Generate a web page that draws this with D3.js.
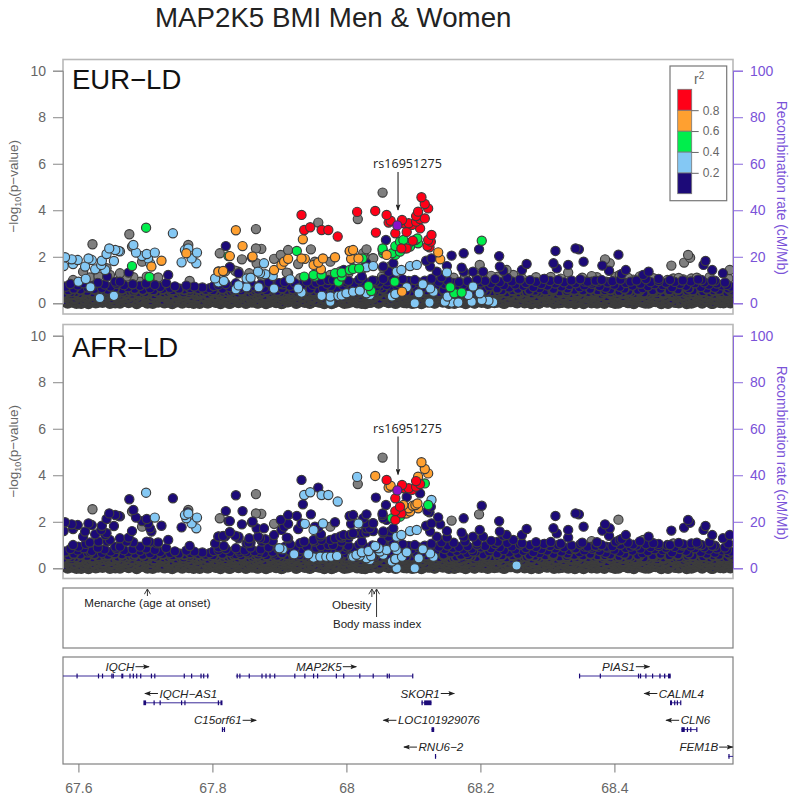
<!DOCTYPE html>
<html>
<head>
<meta charset="utf-8">
<script src="https://cdnjs.cloudflare.com/ajax/libs/d3/7.8.5/d3.min.js"></script>
<style>
html, body { margin: 0; padding: 0; background: #fff; }
svg { display: block; }
text { font-family: "Liberation Sans", Arial, sans-serif; }
</style>
</head>
<body>
<div id="chart"></div>
<script>
// r2 class codes for the AFR column: 0 grey, 1 navy, 2 blue, 3 green, 4 orange, 5 red
// every snp: [position Mb, -log10 p, AFR class], grouped by EUR class
var eurRed = [[67.933,3.80,1],[67.937,3.15,2],[67.946,3.27,2],[67.963,3.15,2],[67.973,3.15,2],[67.987,2.87,2],
  [68.016,3.93,2],[68.043,3.97,4],[68.044,3.04,1],[68.060,3.80,5],[68.063,3.47,4],[68.066,3.55,4],[68.073,3.01,5],
  [68.083,3.58,5],[68.086,3.44,5],[68.093,3.44,5],[68.098,3.37,5],[68.104,3.51,5],[68.110,3.62,5],[68.104,3.75,5],
  [68.107,3.94,4],[68.112,4.56,4],[68.117,4.27,4],[68.122,4.08,4],[68.117,3.65,3],[68.110,3.22,1],[68.090,3.07,1],
  [68.099,2.69,4],[68.090,2.36,4],[68.082,2.36,5],[68.127,2.94,2],[68.122,2.72,3],[68.121,2.46,1],[68.124,2.41,1],[68.126,2.65,1]]
var eurOrange = [[67.835,3.14,1],[67.845,2.46,1],[67.826,2.03,1],[67.860,2.01,1],[67.809,1.36,1],[67.816,1.39,1],
  [67.892,1.43,1],[67.903,1.65,1],[67.907,1.79,1],[67.913,1.91,1],[67.935,2.75,1],[67.933,1.93,1],[67.938,1.91,2],
  [67.951,1.65,2],[67.958,1.75,1],[67.965,1.93,2],[67.962,1.46,1],[67.983,1.98,1],[68.005,2.25,1],[68.010,2.29,1],
  [68.007,1.91,1],[68.018,1.93,2],[68.060,2.08,1],[67.761,2.15,2],[67.724,1.83,1],[67.709,1.58,1],[68.137,2.19,1],
  [68.140,1.89,1],[68.083,0.50,2]]
var eurGreen = [[68.054,2.36,1],[68.055,2.15,1],[68.073,2.46,5],[68.080,2.65,5],[68.085,2.72,4],[68.093,2.58,4],
  [68.106,2.79,4],[68.107,2.58,4],[68.103,2.72,4],[68.073,2.08,5],[68.068,2.15,3],[68.080,2.22,3],[68.088,2.36,4],
  [68.095,2.44,4],[67.701,3.25,2],[67.680,1.60,1],[67.706,1.13,1],[67.824,2.03,1],[67.926,2.25,1],[67.937,1.15,1],
  [67.951,1.22,1],[67.953,1.15,1],[67.963,1.22,1],[67.983,1.29,1],[67.993,1.32,1],[67.988,0.93,1],[67.993,1.15,1],
  [68.005,1.43,1],[68.010,1.48,1],[68.019,1.50,1],[68.024,1.93,1],[68.033,0.74,2],[68.037,0.53,2],[68.054,2.29,1],
  [68.202,2.69,1],[68.155,0.69,1],[68.161,0.43,1],[68.172,0.46,1],[68.072,0.93,2]]
var eurBlue = [[67.578,1.60,1],[67.580,1.98,1],[67.590,1.89,1],[67.592,1.69,1],[67.599,1.86,1],[67.610,1.58,1],
  [67.615,1.93,1],[67.620,1.86,1],[67.625,1.46,1],[67.635,1.83,1],[67.634,1.65,1],[67.640,1.43,1],[67.642,2.12,1],
  [67.646,2.36,1],[67.655,2.29,1],[67.653,1.82,1],[67.660,2.25,1],[67.662,2.23,1],[67.682,2.51,1],[67.686,2.18,1],
  [67.695,2.03,1],[67.702,2.12,1],[67.704,1.93,1],[67.707,1.72,1],[67.714,2.18,2],[67.600,0.93,1],[67.611,1.05,1],
  [67.618,0.69,1],[67.632,0.23,1],[67.653,0.32,1],[67.754,1.76,1],[67.741,3.01,1],[67.759,2.29,2],[67.764,2.36,2],
  [67.769,1.93,2],[67.777,2.18,2],[67.776,1.72,2],[67.804,1.07,1],[67.809,0.90,1],[67.817,0.96,1],[67.835,0.60,1],
  [67.839,0.77,1],[67.851,0.69,1],[67.851,1.07,1],[67.857,1.10,1],[67.869,0.69,1],[67.868,1.36,1],[67.877,1.72,1],
  [67.871,1.29,1],[67.879,1.25,1],[67.890,1.17,1],[67.892,0.63,1],[67.916,1.03,1],[67.928,0.64,1],[67.933,0.46,1],
  [67.963,0.32,1],[67.976,0.29,1],[67.976,0.07,1],[67.988,0.32,1],[67.993,0.34,1],[68.000,0.43,1],[68.010,0.50,2],
  [68.020,0.54,2],[68.030,0.43,2],[68.035,0.36,2],[68.030,1.55,1],[68.040,1.60,1],[68.068,0.29,2],[68.073,0.40,2],
  [68.075,1.36,2],[68.082,1.43,2],[68.095,1.60,2],[68.105,1.65,2],[68.090,0.69,2],[68.108,0.43,2],[68.114,0.82,2],
  [68.125,0.64,2],[68.130,0.50,2],[68.102,0.00,2],[68.124,0.03,1],[68.150,1.32,1],[68.151,0.29,1],[68.147,0.07,1],
  [68.157,0.03,1],[68.167,0.03,1],[68.182,0.36,1],[68.189,0.72,1],[68.187,0.07,1],[68.199,0.43,1],[68.202,0.14,1],
  [68.212,0.11,1],[68.219,0.04,1]]
var eurNavy = [[67.820,2.46,1],[67.826,1.55,1],[67.839,1.29,1],[67.859,1.98,1],[68.059,2.72,1],[67.734,1.22,1],
  [67.675,1.32,1],[68.030,1.72,1],[68.070,1.72,1],[68.055,1.58,1],[68.063,1.36,1],[68.050,0.21,1],[68.023,1.15,1],
  [67.996,1.43,1],[67.973,1.00,1],[68.000,0.90,1],[67.643,1.15,1],[67.655,0.93,1],[67.662,0.93,1],[68.157,2.05,0],
  [68.175,2.15,1],[68.198,2.32,0],[68.228,2.03,1],[68.312,2.25,1],[68.342,2.36,1],[68.347,2.32,1],[68.406,2.09,0],
  [68.354,1.79,1],[68.331,1.65,1],[68.309,1.72,1],[68.314,1.50,1],[68.269,1.69,1],[68.262,1.43,1],[68.229,1.58,1],
  [68.234,1.40,1],[68.172,1.53,1],[68.175,1.36,1],[68.189,1.36,1],[68.204,1.36,1],[68.382,1.62,1],[68.392,1.40,1],
  [68.411,1.26,1],[68.417,1.43,1],[68.443,1.22,0],[68.451,1.36,1],[68.466,1.05,1],[68.536,1.82,1],[68.533,1.65,1],
  [68.546,1.43,1],[68.562,1.29,1],[68.550,0.97,1],[68.530,1.00,1],[68.568,0.79,1],[68.573,0.57,1],[68.127,1.93,1],
  [68.119,1.83,1],[68.150,1.60,1],[68.135,1.36,1],[68.125,1.58,1],[68.356,0.93,1],[68.376,0.93,1],[68.366,0.93,1],
  [67.900,0.86,2],[67.905,0.82,2],[67.922,0.60,2],[67.943,0.60,2],[67.951,0.46,2],[67.961,0.50,2],[67.970,0.50,2],
  [67.977,0.50,2],[67.986,0.53,2],[68.008,0.50,2],[68.015,0.58,2],[68.023,0.69,2],[68.043,0.96,2],[68.048,0.86,2],
  [68.050,0.72,2],[68.060,0.79,2],[68.055,0.58,2],[68.075,0.79,2],[68.073,0.39,2],[68.075,0.00,2],[68.254,0.12,2]]
var eurGrey = [[67.676,2.97,1],[67.621,2.54,0],[67.764,2.51,0],[67.763,2.41,1],[67.811,2.15,0],[67.865,3.19,0],
  [67.865,2.36,0],[67.873,2.34,0],[67.844,1.89,1],[67.892,1.91,0],[67.902,2.08,1],[67.913,2.29,1],[67.947,2.32,1],
  [67.928,1.69,1],[67.911,1.32,1],[67.958,3.47,1],[68.017,3.62,0],[68.030,2.32,1],[68.039,1.93,1],[68.054,4.76,0],
  [68.025,2.15,1],[67.976,1.79,0],[67.953,1.79,1],[67.866,1.72,1],[67.855,1.29,1],[67.839,1.36,1],[67.766,0.96,1],
  [67.695,1.79,0],[67.680,2.44,0],[67.607,1.36,1],[67.682,1.12,1],[67.692,0.93,1],[67.672,1.15,1],[67.717,1.07,1],
  [67.592,1.00,1],[67.580,0.72,1],[68.485,1.62,1],[68.504,1.75,1],[68.510,2.08,1],[68.513,1.96,1],[68.386,1.89,1],
  [68.393,1.72,1],[68.331,1.32,1],[68.199,1.65,1],[68.366,1.17,0],[68.374,1.12,1],[68.388,0.93,1],[68.408,1.22,1],
  [68.572,1.43,1],[68.570,1.07,1],[68.488,1.07,0],[68.503,1.03,1],[68.515,1.07,1],[68.239,1.43,1],[68.249,1.22,1],
  [68.341,0.83,1],[68.177,1.15,1],[68.216,1.18,1],[68.283,1.12,1],[68.296,1.05,1],[68.428,1.02,1],[68.479,1.00,1],[68.496,1.09,1],[68.523,1.10,1],
  [67.617,1.11,1],[67.630,1.15,1],[67.642,1.51,1],[67.647,1.22,1],[67.662,1.29,1],[67.702,1.15,1],[67.719,1.11,1],[67.809,1.37,1],
  [67.819,1.37,1],[67.826,1.55,1],[67.834,1.40,1],[67.854,1.11,1],[67.874,1.15,1],[67.913,1.29,1],[67.931,1.08,1],[67.961,1.37,1],
  [67.976,1.22,1],[67.991,1.37,1],[68.003,1.29,1],[68.010,1.51,1],[68.025,1.51,1],[68.035,1.73,1],[68.005,2.23,1],[68.028,1.94,1],
  [68.040,1.94,1],[68.055,1.51,1],[68.065,1.58,1],[68.053,1.15,1],[68.160,1.10,1],[68.195,1.12,1],[68.226,1.14,1],[68.262,1.08,1],
  [68.305,1.13,1],[68.320,1.06,1],[68.352,1.10,1],[68.402,1.14,1],[68.420,1.10,1],[68.438,1.16,1],[68.458,1.08,1],[68.542,1.12,1]]
var leadSnp = [68.076, 3.35]

// dense band of low signal snps, navy in both panels
var floorSnps = [
  [67.578,.42],[67.579,.11],[67.581,.71],[67.582,.27],[67.584,.03],[67.585,.55],[67.587,.18],[67.588,.83],[67.590,.36],[67.591,.07],[67.593,.62],[67.594,.22],[67.596,.47],[67.597,.02],[67.599,.77],[67.600,.31],[67.602,.13],[67.603,.58],[67.605,.05],[67.606,.39],[67.608,.86],[67.609,.16],[67.611,.51],[67.612,.25],[67.614,.68],[67.615,.01],[67.617,.34],[67.618,.09],[67.620,.74],[67.621,.44],[67.623,.20],[67.624,.60],[67.626,.04],[67.627,.29],[67.629,.88],[67.630,.52],[67.632,.14],[67.633,.37],[67.635,.66],[67.636,.06],[67.638,.24],[67.639,.81],[67.641,.46],[67.642,.12],[67.644,.56],[67.645,.32],[67.647,.02],[67.648,.72],[67.650,.19],[67.651,.41],[67.653,.08],[67.654,.64],[67.656,.28],[67.657,.84],[67.659,.49],[67.660,.15],[67.662,.03],[67.663,.35],[67.665,.59],[67.666,.23],[67.668,.78],[67.669,.10],[67.671,.43],[67.672,.26],[67.674,.69],[67.675,.05],
  [67.677,.53],[67.678,.17],[67.680,.38],[67.681,.82],[67.683,.12],[67.684,.61],[67.686,.30],[67.687,.01],[67.689,.48],[67.690,.21],[67.692,.75],[67.693,.09],[67.695,.40],[67.696,.57],[67.698,.15],[67.699,.33],[67.701,.85],[67.702,.06],[67.704,.45],[67.705,.26],[67.707,.65],[67.708,.11],[67.710,.54],[67.711,.02],[67.713,.36],[67.714,.79],[67.716,.19],[67.717,.50],[67.719,.07],[67.720,.28],[67.722,.70],[67.723,.42],[67.725,.13],[67.726,.60],[67.728,.04],[67.729,.33],[67.731,.87],[67.732,.23],[67.734,.47],[67.735,.10],[67.737,.66],[67.738,.31],[67.740,.01],[67.741,.55],[67.743,.18],[67.744,.73],[67.746,.39],[67.747,.08],[67.749,.27],[67.750,.62],[67.752,.14],[67.753,.46],[67.755,.03],[67.756,.35],[67.758,.58],[67.759,.22],[67.761,.76],[67.762,.11],[67.764,.41],[67.765,.05],[67.767,.64],[67.768,.29],[67.770,.17],[67.771,.52],[67.773,.72],[67.774,.07],[67.776,.37],
  [67.778,.24],[67.779,.60],[67.781,.02],[67.782,.44],[67.784,.13],[67.785,.68],[67.787,.30],[67.788,.09],[67.790,.56],[67.791,.20],[67.793,.38],[67.794,.04],[67.796,.65],[67.797,.26],[67.799,.48],[67.800,.12],[67.802,.74],[67.803,.33],[67.805,.06],[67.806,.53],[67.808,.18],[67.809,.79],[67.811,.42],[67.812,.01],[67.814,.28],[67.815,.61],[67.817,.15],[67.818,.36],[67.820,.83],[67.821,.08],[67.823,.50],[67.824,.22],[67.826,.70],[67.827,.03],[67.829,.40],[67.830,.11],[67.832,.57],[67.833,.31],[67.835,.86],[67.836,.19],[67.838,.45],[67.839,.05],[67.841,.67],[67.842,.25],[67.844,.13],[67.845,.54],[67.847,.35],[67.848,.77],[67.850,.02],[67.851,.43],[67.853,.16],[67.854,.63],[67.856,.29],[67.857,.89],[67.859,.07],[67.860,.49],[67.862,.21],[67.863,.73],[67.865,.38],[67.866,.10],[67.868,.58],[67.869,.04],[67.871,.27],[67.872,.81],[67.874,.46],[67.875,.14],[67.877,.66],
  [67.878,.33],[67.880,.01],[67.881,.55],[67.883,.23],[67.884,.90],[67.886,.09],[67.887,.41],[67.889,.17],[67.890,.71],[67.892,.30],[67.893,.52],[67.895,.05],[67.896,.37],[67.898,.85],[67.899,.12],[67.901,.47],[67.902,.26],[67.904,.64],[67.905,.03],[67.907,.34],[67.908,.92],[67.910,.19],[67.911,.56],[67.913,.08],[67.914,.43],[67.916,.75],[67.917,.24],[67.919,.14],[67.920,.60],[67.922,.32],[67.923,.87],[67.925,.02],[67.926,.50],[67.928,.20],[67.929,.69],[67.931,.39],[67.932,.10],[67.934,.82],[67.935,.28],[67.937,.54],[67.938,.06],[67.940,.44],[67.941,.94],[67.943,.16],[67.944,.35],[67.946,.62],[67.947,.04],[67.949,.25],[67.950,.79],[67.952,.48],[67.953,.12],[67.955,.88],[67.956,.31],[67.958,.58],[67.959,.07],[67.961,.40],[67.962,.96],[67.964,.21],[67.965,.67],[67.967,.01],[67.968,.45],[67.970,.15],[67.971,.84],[67.973,.33],[67.974,.53],[67.976,.09],
  [67.977,.74],[67.979,.27],[67.980,1.0],[67.982,.05],[67.983,.42],[67.985,.18],[67.986,.61],[67.988,.36],[67.989,.91],[67.991,.11],[67.992,.51],[67.994,.23],[67.995,.78],[67.997,.02],[67.998,.38],[68.000,.65],[68.001,.14],[68.003,.97],[68.004,.30],[68.006,.49],[68.007,.08],[68.009,.71],[68.010,.26],[68.012,.86],[68.013,.17],[68.015,.43],[68.016,.04],[68.018,.56],[68.019,1.02],[68.021,.34],[68.022,.12],[68.024,.68],[68.025,.47],[68.027,.93],[68.028,.01],[68.030,.29],[68.031,.59],[68.033,.19],[68.034,.83],[68.036,.40],[68.037,.07],[68.039,.98],[68.040,.25],[68.042,.52],[68.043,.13],[68.045,.73],[68.046,.37],[68.048,.03],[68.049,.89],[68.051,.46],[68.052,.20],[68.054,.63],[68.055,1.05],[68.057,.10],[68.058,.32],[68.060,.55],[68.061,.94],[68.063,.05],[68.064,.41],[68.066,.76],[68.067,.16],[68.069,.28],[68.070,1.08],[68.072,.48],[68.073,.02],[68.075,.66],
  [68.076,.22],[68.078,.87],[68.079,.35],[68.081,.09],[68.082,.57],[68.084,1.03],[68.085,.15],[68.087,.44],[68.088,.74],[68.090,.04],[68.091,.30],[68.093,.96],[68.094,.19],[68.096,.50],[68.097,.81],[68.099,.11],[68.100,.39],[68.102,1.0],[68.103,.06],[68.105,.62],[68.106,.27],[68.108,.90],[68.109,.14],[68.111,.45],[68.112,.01],[68.114,.70],[68.115,.33],[68.117,.97],[68.118,.21],[68.120,.54],[68.121,.08],[68.123,.85],[68.124,.41],[68.126,.17],[68.127,1.06],[68.129,.29],[68.130,.60],[68.132,.03],[68.133,.77],[68.135,.36],[68.136,.12],[68.138,.93],[68.139,.48],[68.141,.24],[68.142,1.12],[68.144,.07],[68.145,.58],[68.147,.83],[68.148,.18],[68.150,.40],[68.151,.98],[68.153,.02],[68.154,.31],[68.156,.69],[68.157,.13],[68.159,.88],[68.160,.46],[68.162,.22],[68.163,.05],[68.165,.75],[68.166,.35],[68.168,.92],[68.169,.10],[68.171,.56],[68.172,.26],[68.174,.81],
  [68.175,.16],[68.177,.43],[68.178,.01],[68.180,.66],[68.181,.95],[68.183,.32],[68.184,.08],[68.186,.52],[68.187,.84],[68.189,.20],[68.190,.38],[68.192,.04],[68.193,.71],[68.195,1.01],[68.196,.13],[68.198,.47],[68.199,.27],[68.201,.89],[68.202,.06],[68.204,.59],[68.205,.34],[68.207,.96],[68.208,.15],[68.210,.44],[68.211,.02],[68.213,.73],[68.214,.24],[68.216,.86],[68.217,.51],[68.219,.11],[68.220,.37],[68.222,1.04],[68.223,.19],[68.225,.63],[68.226,.07],[68.228,.41],[68.229,.91],[68.231,.29],[68.232,.55],[68.234,.03],[68.235,.78],[68.237,.14],[68.238,.46],[68.240,1.09],[68.241,.22],[68.243,.68],[68.244,.35],[68.246,.09],[68.247,.94],[68.249,.53],[68.250,.17],[68.252,.81],[68.253,.30],[68.255,.04],[68.256,.61],[68.258,.42],[68.259,1.02],[68.261,.12],[68.262,.26],[68.264,.75],[68.265,.49],[68.267,.07],[68.268,.87],[68.270,.33],
  [68.271,.18],[68.273,.57],[68.274,.99],[68.276,.01],[68.277,.39],[68.279,.70],[68.280,.23],[68.282,.10],[68.283,.92],[68.285,.47],[68.286,.28],[68.288,.65],[68.289,.05],[68.291,.83],[68.292,.36],[68.294,.15],[68.295,1.05],[68.297,.54],[68.298,.21],[68.300,.76],[68.301,.08],[68.303,.43],[68.304,.96],[68.306,.31],[68.307,.12],[68.309,.60],[68.310,.02],[68.312,.85],[68.313,.38],[68.315,.19],[68.316,1.0],[68.318,.50],[68.319,.26],[68.321,.72],[68.322,.06],[68.324,.33],[68.325,.90],[68.327,.14],[68.328,.45],[68.330,.63],[68.331,.03],[68.333,.79],[68.334,.24],[68.336,.98],[68.337,.37],[68.339,.11],[68.340,.56],[68.342,.86],[68.343,.17],[68.345,.42],[68.346,.07],[68.348,.69],[68.349,1.03],[68.351,.29],[68.352,.52],[68.354,.01],[68.355,.77],[68.357,.34],[68.358,.13],[68.360,.93],[68.361,.47],[68.363,.22],[68.364,.61],[68.366,.04],[68.367,.84],[68.369,.40],
  [68.370,.16],[68.372,.97],[68.373,.28],[68.375,.55],[68.376,.09],[68.378,.74],[68.379,.35],[68.381,1.0],[68.382,.19],[68.384,.48],[68.385,.02],[68.387,.67],[68.388,.25],[68.390,.89],[68.391,.12],[68.393,.43],[68.394,.58],[68.396,.06],[68.397,.95],[68.399,.31],[68.400,.80],[68.402,.15],[68.403,.50],[68.405,.38],[68.406,.03],[68.408,.71],[68.409,1.01],[68.411,.21],[68.412,.44],[68.414,.10],[68.415,.62],[68.417,.87],[68.418,.27],[68.420,.05],[68.421,.53],[68.423,.36],[68.424,.93],[68.426,.17],[68.427,.76],[68.429,.01],[68.430,.41],[68.432,.23],[68.433,.98],[68.435,.57],[68.436,.12],[68.438,.32],[68.439,.84],[68.441,.07],[68.442,.65],[68.444,.46],[68.445,.18],[68.447,1.04],[68.448,.29],[68.450,.73],[68.451,.03],[68.453,.39],[68.454,.91],[68.456,.14],[68.457,.55],[68.459,.24],[68.460,.82],[68.462,.09],[68.463,.49],[68.465,.34],
  [68.466,.96],[68.468,.06],[68.469,.61],[68.471,.20],[68.472,.78],[68.474,.42],[68.475,.13],[68.477,.88],[68.478,.30],[68.480,.02],[68.481,.52],[68.483,1.0],[68.484,.16],[68.486,.69],[68.487,.37],[68.489,.08],[68.490,.92],[68.492,.26],[68.493,.45],[68.495,.59],[68.496,.04],[68.498,.83],[68.499,.33],[68.501,.11],[68.502,.98],[68.504,.47],[68.505,.22],[68.507,.75],[68.508,.01],[68.510,.40],[68.511,.64],[68.513,.17],[68.514,.94],[68.516,.28],[68.517,.54],[68.519,.07],[68.520,.86],[68.522,.35],[68.523,.13],[68.525,1.02],[68.526,.43],[68.528,.24],[68.529,.70],[68.531,.03],[68.532,.51],[68.534,.90],[68.535,.18],[68.537,.31],[68.538,.62],[68.540,.09],[68.541,.80],[68.543,.46],[68.544,.21],[68.546,.97],[68.547,.02],[68.549,.38],[68.550,.67],[68.552,.14],[68.553,.85],[68.555,.28],[68.556,.56],[68.558,.05],[68.559,.41],[68.561,.77],[68.562,.19],[68.564,.33],[68.565,.89],[68.567,.10],[68.568,.48],[68.570,.63],[68.571,.25],[68.573,.04],[68.574,.72],[68.576,.36],[68.577,.15]
]
// more of the same band, thickest near the baseline
var floorLow = [
  [67.580,.33],[67.586,.09],[67.589,.48],[67.595,.21],[67.601,.40],[67.604,.02],[67.610,.30],[67.613,.52],[67.619,.13],[67.622,.37],[67.628,.06],[67.631,.45],[67.637,.24],[67.640,.55],[67.646,.15],[67.649,.35],[67.655,.04],[67.658,.43],[67.664,.19],[67.667,.50],[67.673,.11],[67.676,.29],[67.682,.53],[67.685,.08],[67.691,.38],[67.694,.18],[67.700,.47],[67.703,.03],[67.709,.26],[67.712,.55],[67.718,.12],[67.721,.34],[67.727,.44],[67.730,.05],[67.736,.22],[67.739,.51],[67.745,.14],[67.748,.36],[67.754,.08],[67.757,.46],[67.763,.28],[67.766,.53],[67.772,.02],[67.775,.19],[67.780,.41],[67.783,.10],[67.786,.50],[67.789,.25],[67.792,.04],[67.795,.35],[67.798,.15],[67.801,.55],[67.804,.30],[67.807,.07],[67.810,.44],[67.813,.20],[67.816,.49],[67.819,.11],[67.822,.33],[67.825,.02],[67.828,.52],[67.831,.24],[67.834,.40],[67.837,.09],[67.840,.28],[67.843,.54],[67.846,.13],[67.849,.37],[67.852,.05],[67.855,.46],[67.858,.18],[67.861,.31],[67.864,.55],[67.867,.03],[67.870,.42],[67.873,.21],[67.876,.50],[67.879,.12],[67.882,.32],[67.885,.06],[67.888,.47],[67.891,.26],[67.894,.14],[67.897,.53],[67.900,.38],[67.903,.01],[67.906,.44],[67.909,.23],[67.912,.09],[67.915,.51],[67.918,.34],[67.921,.16],[67.924,.41],[67.927,.05],[67.930,.55],[67.933,.27],[67.936,.12],[67.939,.48],[67.942,.36],[67.945,.02],[67.948,.20],[67.951,.52],[67.954,.10],[67.957,.43],[67.960,.29],[67.963,.06],[67.966,.54],[67.969,.17],[67.972,.39],[67.975,.24],[67.978,.01],[67.981,.47],[67.984,.13],[67.987,.33],[67.990,.55],[67.993,.08],[67.996,.26],[67.999,.50],[68.002,.04],[68.005,.42],[68.008,.19],[68.011,.35],[68.014,.11],[68.017,.53],[68.020,.22],[68.023,.02],[68.026,.45],[68.029,.15],[68.032,.37],[68.035,.06],[68.038,.52],[68.041,.28],[68.044,.41],[68.047,.09],[68.050,.49],[68.053,.18],[68.056,.32],
  [68.077,.10],[68.080,.42],[68.083,.26],[68.086,.05],[68.089,.52],[68.092,.17],[68.095,.36],[68.098,.02],[68.101,.47],[68.104,.22],[68.107,.12],[68.110,.54],[68.113,.31],[68.116,.07],[68.119,.44],[68.122,.18],[68.125,.38],[68.128,.50],[68.131,.04],[68.134,.25],[68.137,.46],[68.140,.13],[68.143,.34],[68.146,.53],[68.149,.09],[68.152,.20],[68.155,.41],[68.158,.28],[68.161,.02],[68.164,.50],[68.167,.16],[68.170,.37],[68.173,.06],[68.176,.45],[68.179,.24],[68.182,.55],[68.185,.12],[68.188,.33],[68.191,.03],[68.194,.48],[68.197,.19],[68.200,.40],[68.203,.27],[68.206,.08],[68.209,.53],[68.212,.14],[68.215,.35],[68.218,.43],[68.221,.05],[68.224,.22],[68.227,.51],[68.230,.11],[68.233,.30],[68.236,.02],[68.239,.46],[68.242,.17],[68.245,.39],[68.248,.55],[68.251,.08],[68.254,.26],[68.257,.44],[68.260,.13],[68.263,.34],[68.266,.04],[68.269,.50],[68.272,.21],[68.275,.37],[68.278,.10],[68.281,.53],[68.284,.28],[68.287,.02],[68.290,.42],[68.293,.16],[68.296,.32],[68.299,.07],[68.302,.48],[68.305,.24],[68.308,.55],[68.311,.12],[68.314,.36],[68.317,.04],[68.320,.45],[68.323,.19],[68.326,.29],[68.329,.52],[68.332,.09],[68.335,.40],[68.338,.22],[68.341,.01],[68.344,.47],[68.347,.14],[68.350,.34],[68.353,.54],[68.356,.06],[68.359,.25],[68.362,.43],[68.365,.11],[68.368,.31],[68.371,.50],[68.374,.03],[68.377,.18],[68.380,.38],[68.383,.07],[68.386,.55],[68.389,.27],[68.392,.13],[68.395,.46],[68.398,.21],[68.401,.02],[68.404,.35],[68.407,.52],[68.410,.09],[68.413,.28],[68.416,.42],[68.419,.15],[68.422,.05],[68.425,.49],[68.428,.24],[68.431,.33],[68.434,.11],[68.437,.54],[68.440,.19],[68.443,.39],[68.446,.03],[68.449,.45],[68.452,.26],[68.455,.08],[68.458,.51],[68.461,.14],[68.464,.36],[68.467,.22],[68.470,.01],[68.473,.44],[68.476,.30],[68.479,.12],[68.482,.55],[68.485,.18],[68.488,.40],[68.491,.06],[68.494,.27],[68.497,.48],[68.500,.09],[68.503,.34],[68.506,.15],[68.509,.53],[68.512,.24],[68.515,.03],[68.518,.42],[68.521,.19],[68.524,.31],[68.527,.50],[68.530,.07],[68.533,.37],[68.536,.12],[68.539,.45],[68.542,.28],[68.545,.02],[68.548,.54],[68.551,.21],[68.554,.35],[68.557,.10],[68.560,.47],[68.563,.04],[68.566,.26],[68.569,.41],[68.572,.16],[68.575,.52]
]

var r2Breaks = [0, 0.2, 0.4, 0.6, 0.8, 1]
var r2Colors = ["#1c0a78", "#84c8f4", "#00ee4c", "#ffa030", "#ff0018"]
var classColors = ["#7f7f7f", "#1c0a78", "#84c8f4", "#00ee4c", "#ffa030", "#ff0018"]
var leadColor = "#8a10c8"

var xTicks = [67.6, 67.8, 68, 68.2, 68.4]
var pTicks = [0, 2, 4, 6, 8, 10]
var recTicks = [0, 20, 40, 60, 80, 100]

var catalogNames = ["Menarche (age at onset)", "Obesity", "Body mass index"]
var catalogPos = [67.703, 68.038, 68.045]

var geneNames = ["IQCH", "MAP2K5", "IQCH\u2212AS1", "C15orf61", "SKOR1", "LOC101929076", "RNU6\u22122", "PIAS1", "CALML4", "CLN6", "FEM1B"]
var geneRows = [0, 0, 1, 2, 1, 2, 3, 0, 1, 2, 3]
var geneStrand = [1, 1, -1, 1, 1, -1, -1, 1, -1, -1, 1]
var geneStart = [67.577, 67.835, 67.698, 67.815, 68.112, 68.127, 68.133, 68.348, 68.483, 68.500, 68.570]
var geneEnd = [67.795, 68.099, 67.814, 67.818, 68.127, 68.131, 68.134, 68.484, 68.499, 68.523, 68.577]
var geneLabelPos = [67.662, 67.959, 67.764, 67.808, 68.110, 68.138, 68.141, 68.406, 68.500, 68.521, 68.526]
// single numbers are thin exons, pairs are wide blocks
var geneExons = [
  [67.598,67.630,67.636,67.650,67.652,[67.664,67.667],67.677,67.682,67.687,67.693,67.709,67.714,67.758,67.769,67.783,67.787,67.793],
  [67.837,67.841,67.855,67.874,67.880,67.886,67.893,67.923,67.938,67.951,67.957,67.985,67.996,68.020,68.040,68.061,68.064,68.099],
  [[67.697,67.701],67.713,67.722,67.754,67.759,[67.808,67.810],[67.812,67.815]],
  [67.815,67.818],
  [[68.112,68.114],[68.116,68.127]],
  [[68.127,68.131]],
  [68.133],
  [68.348,68.379,68.436,68.439,68.447,68.457,[68.467,68.469],[68.474,68.476],[68.480,68.484]],
  [[68.483,68.486],68.490,68.494,68.499],
  [[68.500,68.505],68.509,68.514,68.523],
  [68.571]
]

var svg = d3.select("#chart").append("svg").attr("width", 800).attr("height", 800)
var x = d3.scaleLinear().domain([67.577, 68.577]).range([63, 733])

var defs = svg.append("defs")
defs.append("marker").attr("id", "head").attr("viewBox", "0 0 8 6").attr("refX", 7).attr("refY", 3)
  .attr("markerWidth", 7).attr("markerHeight", 5).attr("markerUnits", "userSpaceOnUse").attr("orient", "auto")
  .append("path").attr("d", "M0,0L8,3L0,6L1.5,3Z").attr("fill", "#222")
defs.append("marker").attr("id", "open").attr("viewBox", "0 0 8 8").attr("refX", 7).attr("refY", 4)
  .attr("markerWidth", 7).attr("markerHeight", 7).attr("markerUnits", "userSpaceOnUse").attr("orient", "auto")
  .append("path").attr("d", "M1,0.5L7,4L1,7.5").attr("fill", "none").attr("stroke", "#333").attr("stroke-width", 1.1)

var allSnps = []
addGroup(eurGrey, 0)
addGroup(eurNavy, 1)
addGroup(eurBlue, 2)
addGroup(eurGreen, 3)
addGroup(eurOrange, 4)
addGroup(eurRed, 5)
floorSnps.concat(floorLow).forEach(function(d){ allSnps.push({pos: d[0], logp: d[1], eur: 1, afr: 1, band: true}) })

function addGroup(rows, eurClass){
  rows.forEach(function(d){ allSnps.push({pos: d[0], logp: d[1], eur: eurClass, afr: d[2], band: false}) })
}

svg.append("text").attr("x", 155).attr("y", 27).attr("font-size", 27.7).attr("fill", "#222").text("MAP2K5 BMI Men & Women")

addPanel(59.5, 314, 303.3, "EUR\u2212LD", "eur", 89.3, 168, "p1")
addPanel(324.5, 578.5, 568.3, "AFR\u2212LD", "afr", 357.3, 432.5, "p2")
addLegend()
addCatalog()
addGenes()
addXAxis()

function bandStroke(d){
  if (!d.band) return 1.15
  if (d.logp < 0.45) return 3
  if (d.logp < 0.65) return 2
  return 1.15
}

function addPanel(top, bottom, zero, name, key, nameY, snpTextY, clipId){
  var y = d3.scaleLinear().domain([0, 10]).range([zero, zero - 232.6])
  var rec = d3.scaleLinear().domain([0, 100]).range([zero, zero - 232.6])
  var g = svg.append("g")

  defs.append("clipPath").attr("id", clipId).append("rect")
    .attr("x", 63).attr("y", top).attr("width", 670).attr("height", bottom - top)

  g.append("rect").attr("x", 63).attr("y", top).attr("width", 670).attr("height", bottom - top)
    .attr("fill", "#fff").attr("stroke", "#b8b8b8").attr("stroke-width", 1.6)

  // low band first so the upper rim keeps whole navy discs
  var drawn = allSnps.slice().sort(function(a, b){ return (a[key] - b[key]) || (a.logp - b.logp) })
  g.append("g").attr("clip-path", "url(#" + clipId + ")")
    .selectAll("circle")
    .data(drawn)
    .enter()
    .append("circle")
    .attr("cx", function(d){ return x(d.pos) })
    .attr("cy", function(d){ return y(d.logp) })
    .attr("r", 4.6)
    .attr("fill", function(d){ return classColors[d[key]] })
    .attr("stroke", "#3c3c3c")
    .attr("stroke-width", bandStroke)

  g.append("circle").attr("cx", x(leadSnp[0])).attr("cy", y(leadSnp[1])).attr("r", 4.6)
    .attr("fill", leadColor).attr("stroke", "#3c3c3c").attr("stroke-width", 1.15)

  var left = g.append("g").attr("transform", "translate(63,0)")
    .call(d3.axisLeft(y).tickValues(pTicks).tickSize(10).tickPadding(7))
  left.select(".domain").attr("stroke", "#999")
  left.selectAll(".tick line").attr("stroke", "#888")
  left.selectAll(".tick text").attr("fill", "#666").attr("font-size", 14).attr("font-family", "Liberation Sans")

  var right = g.append("g").attr("transform", "translate(733,0)")
    .call(d3.axisRight(rec).tickValues(recTicks).tickSize(10).tickPadding(7))
  right.select(".domain").attr("stroke", "#8a68dc")
  right.selectAll(".tick line").attr("stroke", "#8a68dc")
  right.selectAll(".tick text").attr("fill", "#7a52d8").attr("font-size", 14).attr("font-family", "Liberation Sans")

  var mid = zero - 116.5
  var lab = g.append("text").attr("transform", "translate(18," + (mid - 0.5) + ") rotate(-90)")
    .attr("text-anchor", "middle").attr("font-size", 13.5).attr("fill", "#666")
  lab.append("tspan").text("\u2212log")
  lab.append("tspan").attr("font-size", 9).attr("dy", 3).text("10")
  lab.append("tspan").attr("dy", -3).text("(p\u2212value)")

  g.append("text").attr("transform", "translate(777," + (mid + 1) + ") rotate(90)")
    .attr("text-anchor", "middle").attr("font-size", 13.8).attr("fill", "#7a52d8")
    .text("Recombination rate (cM/Mb)")

  g.append("text").attr("x", 72).attr("y", nameY).attr("font-size", 27.5).attr("fill", "#111").text(name)

  g.append("text").attr("x", 407.5).attr("y", snpTextY).attr("text-anchor", "middle")
    .attr("font-size", 12.6).attr("fill", "#222").style("font-family", "Open Sans").text("rs16951275")
  g.append("line").attr("x1", x(leadSnp[0]) + 0.7).attr("x2", x(leadSnp[0]) + 0.7)
    .attr("y1", snpTextY + 4).attr("y2", snpTextY + 42)
    .attr("stroke", "#222").attr("stroke-width", 1.1).attr("marker-end", "url(#head)")
}

function addLegend(){
  var g = svg.append("g")
  var bar = d3.scaleLinear().domain([0, 1]).range([193.7, 89.3])
  g.append("rect").attr("x", 670).attr("y", 66).attr("width", 56.7).attr("height", 134.7)
    .attr("fill", "#fff").attr("stroke", "#777").attr("stroke-width", 1.2)
  g.selectAll(".seg")
    .data(r2Colors)
    .enter()
    .append("rect")
    .attr("class", "seg")
    .attr("x", 677.7)
    .attr("width", 14)
    .attr("y", function(d, i){ return bar(r2Breaks[i + 1]) })
    .attr("height", function(d, i){ return bar(r2Breaks[i]) - bar(r2Breaks[i + 1]) })
    .attr("fill", function(d){ return d })
    .attr("stroke", "#777")
    .attr("stroke-width", 0.8)
  var ax = g.append("g").attr("transform", "translate(691.7,0)")
    .call(d3.axisRight(bar).tickValues([0.2, 0.4, 0.6, 0.8]).tickSize(7).tickPadding(4))
  ax.select(".domain").remove()
  ax.selectAll(".tick line").attr("stroke", "#666")
  ax.selectAll(".tick text").attr("fill", "#666").attr("font-size", 12).attr("font-family", "Liberation Sans")
  var r = g.append("text").attr("x", 694).attr("y", 84).attr("font-size", 14).attr("fill", "#666")
  r.append("tspan").text("r")
  r.append("tspan").attr("font-size", 10).attr("dy", -5).text("2")
}

function addCatalog(){
  var g = svg.append("g")
  g.append("rect").attr("x", 63).attr("y", 588).attr("width", 670).attr("height", 60)
    .attr("fill", "#fff").attr("stroke", "#808080").attr("stroke-width", 1.2)
  var anchors = ["middle", "end", "middle"]
  var textY = [606.5, 608.5, 628]
  var textDx = [0, -0.5, 0.5]
  var arrowEnd = [596, 597, 617]
  g.selectAll(".hit")
    .data(catalogPos)
    .enter()
    .append("line")
    .attr("class", "hit")
    .attr("x1", function(d){ return x(d) })
    .attr("x2", function(d){ return x(d) })
    .attr("y1", function(d, i){ return arrowEnd[i] })
    .attr("y2", 589)
    .attr("stroke", "#333")
    .attr("stroke-width", 1)
    .attr("marker-end", "url(#open)")
  g.selectAll(".hitlabel")
    .data(catalogNames)
    .enter()
    .append("text")
    .attr("class", "hitlabel")
    .attr("x", function(d, i){ return x(catalogPos[i]) + textDx[i] })
    .attr("y", function(d, i){ return textY[i] })
    .attr("text-anchor", function(d, i){ return anchors[i] })
    .attr("font-size", 11.6)
    .attr("fill", "#222")
    .text(function(d){ return d })
}

function addGenes(){
  var g = svg.append("g")
  g.append("rect").attr("x", 63).attr("y", 657).attr("width", 670).attr("height", 107)
    .attr("fill", "#fff").attr("stroke", "#808080").attr("stroke-width", 1.2)
  var rowY = d3.scaleLinear().domain([0, 3]).range([676, 756.4])

  g.selectAll(".span")
    .data(geneNames)
    .enter()
    .append("line")
    .attr("class", "span")
    .attr("x1", function(d, i){ return x(geneStart[i]) })
    .attr("x2", function(d, i){ return x(geneEnd[i]) })
    .attr("y1", function(d, i){ return rowY(geneRows[i]) })
    .attr("y2", function(d, i){ return rowY(geneRows[i]) })
    .attr("stroke", "#3a2a98")
    .attr("stroke-width", 1)

  geneExons.forEach(function(list, i){
    g.selectAll(".exon" + i)
      .data(list)
      .enter()
      .append("rect")
      .attr("class", "exon" + i)
      .attr("x", function(d){ return x(Array.isArray(d) ? d[0] : d) - (Array.isArray(d) ? 0 : 0.6) })
      .attr("width", function(d){ return Array.isArray(d) ? x(d[1]) - x(d[0]) : 1.2 })
      .attr("y", rowY(geneRows[i]) - 2.4)
      .attr("height", 4.8)
      .attr("fill", "#1c0a78")
  })

  geneNames.forEach(function(name, i){
    var ty = rowY(geneRows[i]) - 5.3
    var tx = x(geneLabelPos[i])
    var label = g.append("text").attr("x", tx).attr("y", ty).attr("text-anchor", "middle")
      .attr("font-size", 11.6).attr("font-style", "italic").attr("fill", "#222").text(name)
    var half = label.node().getComputedTextLength() / 2
    var ay = ty - 4
    var from = geneStrand[i] > 0 ? tx + half + 1 : tx - half - 1.5
    var to = geneStrand[i] > 0 ? from + 13.5 : from - 13
    g.append("line").attr("x1", from).attr("x2", to).attr("y1", ay).attr("y2", ay)
      .attr("stroke", "#222").attr("stroke-width", 1).attr("marker-end", "url(#head)")
  })
}

function addXAxis(){
  var ax = svg.append("g").attr("transform", "translate(0,764)")
    .call(d3.axisBottom(x).tickValues(xTicks).tickSize(8.5).tickPadding(11).tickFormat(function(d){ return d }))
  ax.select(".domain").remove()
  ax.selectAll(".tick line").attr("stroke", "#777")
  ax.selectAll(".tick text").attr("fill", "#666").attr("font-size", 14).attr("font-family", "Liberation Sans")
}
</script>
</body>
</html>
